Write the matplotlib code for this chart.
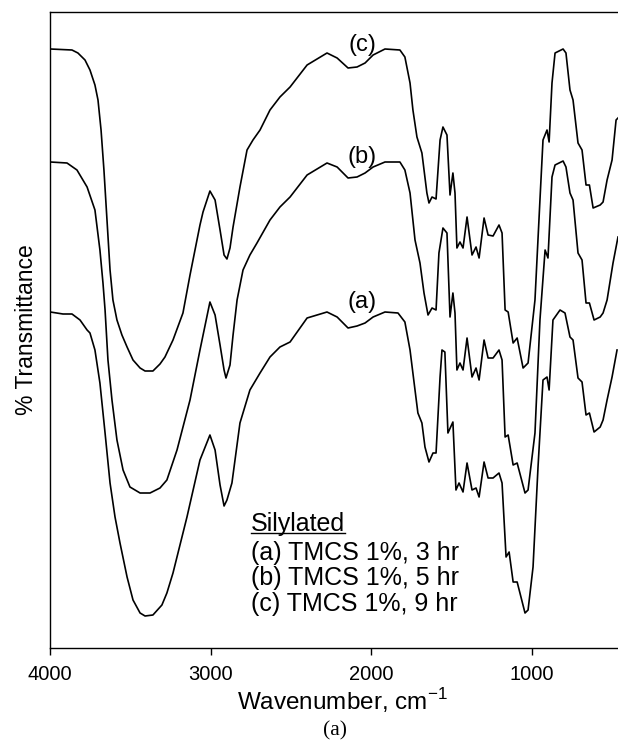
import numpy as np
import matplotlib
matplotlib.use("Agg")
import matplotlib.pyplot as plt
from matplotlib.lines import Line2D

plt.rcParams['font.family'] = ['Liberation Sans', 'DejaVu Sans']

# wavenumbers (cm-1) and transmittance (arb. offset units)
wn_c = [4000, 3865, 3828, 3784, 3753, 3722, 3703, 3684, 3666, 3647, 3628, 3610, 3585, 3554,
        3522, 3485, 3441, 3410, 3361, 3317, 3286, 3236, 3174, 3130, 3099, 3068, 3049, 3006,
        2974, 2943, 2918, 2900, 2881, 2862, 2819, 2775, 2738, 2694, 2632, 2570, 2507, 2401,
        2277, 2214, 2146, 2090, 2040, 1990, 1916, 1823, 1792, 1760, 1742, 1717, 1686, 1655,
        1642, 1623, 1598, 1573, 1555, 1530, 1511, 1493, 1480, 1468, 1449, 1430, 1405, 1374,
        1349, 1330, 1299, 1274, 1243, 1206, 1187, 1168, 1149, 1118, 1093, 1056, 1025, 982, 951, 932,
        907, 894, 876, 857, 807, 789, 764, 745, 714, 689, 664, 643, 620, 576, 558, 533, 502,
        477, 465]
t_c = [599, 598, 595, 588, 578, 563, 548, 518, 478, 428, 378, 348, 328, 313,
       301, 288, 280, 277, 277, 284, 291, 308, 335, 373, 398, 423, 436, 457,
       448, 418, 393, 389, 400, 421, 461, 498, 508, 518, 538, 551, 561, 583,
       595, 590, 580, 581, 585, 593, 599, 598, 591, 565, 538, 511, 495, 455,
       445, 451, 449, 508, 521, 513, 453, 475, 455, 400, 406, 400, 431, 393,
       401, 390, 430, 413, 412, 423, 415, 338, 336, 305, 310, 280, 285, 348, 448, 508,
       518, 506, 565, 595, 599, 595, 558, 548, 505, 498, 463, 463, 440, 443, 446, 468, 488,
       528, 530]

wn_b = [4000, 3896, 3834, 3771, 3722, 3691, 3672, 3659, 3641, 3616, 3585, 3547, 3504, 3441,
        3379, 3317, 3274, 3211, 3130, 3068, 3006, 2974, 2943, 2918, 2906, 2881, 2862, 2837,
        2800, 2757, 2713, 2632, 2570, 2507, 2401, 2277, 2214, 2146, 2090, 2040, 1990, 1916,
        1823, 1792, 1760, 1729, 1698, 1673, 1648, 1623, 1598, 1580, 1555, 1530, 1511, 1493,
        1480, 1468, 1449, 1430, 1405, 1374, 1349, 1330, 1299, 1274, 1243, 1206, 1187, 1168, 1149,
        1118, 1093, 1044, 1025, 982, 951, 919, 901, 876, 857, 807, 789, 764, 745, 714, 689, 664,
        643, 614, 576, 558, 533, 496, 465]
t_b = [486, 485, 478, 461, 438, 398, 365, 338, 288, 248, 208, 178, 161, 155,
       155, 160, 168, 198, 248, 298, 346, 333, 303, 278, 270, 283, 313, 348,
       378, 393, 405, 428, 441, 451, 473, 485, 481, 470, 471, 475, 481, 486,
       486, 478, 455, 408, 385, 355, 333, 340, 338, 395, 420, 415, 331, 355,
       335, 278, 285, 278, 310, 271, 280, 268, 308, 290, 290, 298, 288, 211, 213,
       183, 185, 155, 158, 215, 328, 398, 390, 471, 483, 487, 481, 455, 448, 395, 388, 345,
       345, 328, 331, 335, 348, 385, 411]

wn_a = [4000, 3921, 3865, 3815, 3771, 3753, 3722, 3691, 3659, 3628, 3597, 3566, 3522, 3485,
        3441, 3410, 3361, 3305, 3274, 3236, 3149, 3068, 3006, 2974, 2943, 2918, 2900, 2869,
        2819, 2757, 2694, 2632, 2570, 2507, 2401, 2277, 2214, 2146, 2090, 2040, 1990, 1916,
        1835, 1792, 1760, 1729, 1711, 1686, 1667, 1642, 1617, 1598, 1573, 1561, 1543, 1524,
        1493, 1474, 1455, 1430, 1405, 1374, 1349, 1330, 1299, 1274, 1243, 1206, 1187, 1162, 1143,
        1118, 1093, 1044, 1025, 994, 963, 932, 907, 894, 870, 826, 795, 764, 745, 714, 689, 664,
        643, 614, 576, 558, 533, 502, 471]
t_a = [336, 334, 334, 328, 318, 315, 298, 265, 215, 165, 131, 105, 71, 48,
       35, 32, 33, 43, 55, 75, 131, 188, 213, 198, 163, 142, 148, 165,
       225, 258, 275, 291, 301, 306, 330, 336, 331, 320, 322, 325, 331, 336,
       335, 326, 298, 258, 235, 225, 201, 186, 195, 195, 271, 298, 296, 215,
       226, 158, 165, 156, 185, 158, 160, 151, 186, 170, 170, 175, 165, 91, 96,
       66, 66, 35, 38, 81, 181, 268, 271, 258, 328, 338, 335, 311, 308, 270, 266, 233,
       235, 216, 221, 228, 248, 271, 298]

curve_tags = ["(a)", "(b)", "(c)"]
tag_y = [346, 491, 603]
legend_lines = ["(a) TMCS 1%, 3 hr", "(b) TMCS 1%, 5 hr", "(c) TMCS 1%, 9 hr"]

fig = plt.figure(figsize=(6.18, 7.45), dpi=100)
ax = fig.add_axes([50.3 / 618, 1 - 648 / 745, 1 - 50.3 / 618, 636 / 745])

for wn, t in [(wn_a, t_a), (wn_b, t_b), (wn_c, t_c)]:
    ax.plot(wn, t, color='black', lw=1.2)

ax.set_xlim(4000, 465)
ax.set_ylim(0, 636)
ax.set_xticks([4000, 3000, 2000, 1000])
ax.set_yticks([])
ax.spines['right'].set_visible(False)
for s in ax.spines.values():
    s.set_linewidth(1.0)
ax.tick_params(axis='x', direction='out', length=5, width=1, labelsize=14.5, pad=7.5)

ax.set_ylabel("% Transmittance", fontsize=16.5, labelpad=9)
ax.set_xlabel("Wavenumber, cm$^{\\mathregular{-1}}$", fontsize=17.5)
ax.xaxis.set_label_coords(0.515, -0.0605)

# labels above each curve
for tag, yy in zip(curve_tags, tag_y):
    ax.text(2059, yy, tag, fontsize=17, ha='center', va='center')

# silylated legend block
title = ax.text(0.3535, 0.1945, "Silylated", transform=ax.transAxes, fontsize=18,
                ha='left', va='center')
ax.text(0.3535, 0.110, "\n".join(legend_lines), transform=ax.transAxes, fontsize=18,
        ha='left', va='center', linespacing=1.08)

fig.canvas.draw()
bb = title.get_window_extent()
fig.add_artist(Line2D([bb.x0 / fig.bbox.width, bb.x1 / fig.bbox.width],
                      [(bb.y0 + 3) / fig.bbox.height] * 2, color='black', lw=1.0))

fig.text(335 / 618, 1 - 731 / 745, "(a)", fontsize=15.5, ha='center', va='center',
         family=['Liberation Serif', 'DejaVu Serif'])

fig.savefig("out.png", dpi=100)
